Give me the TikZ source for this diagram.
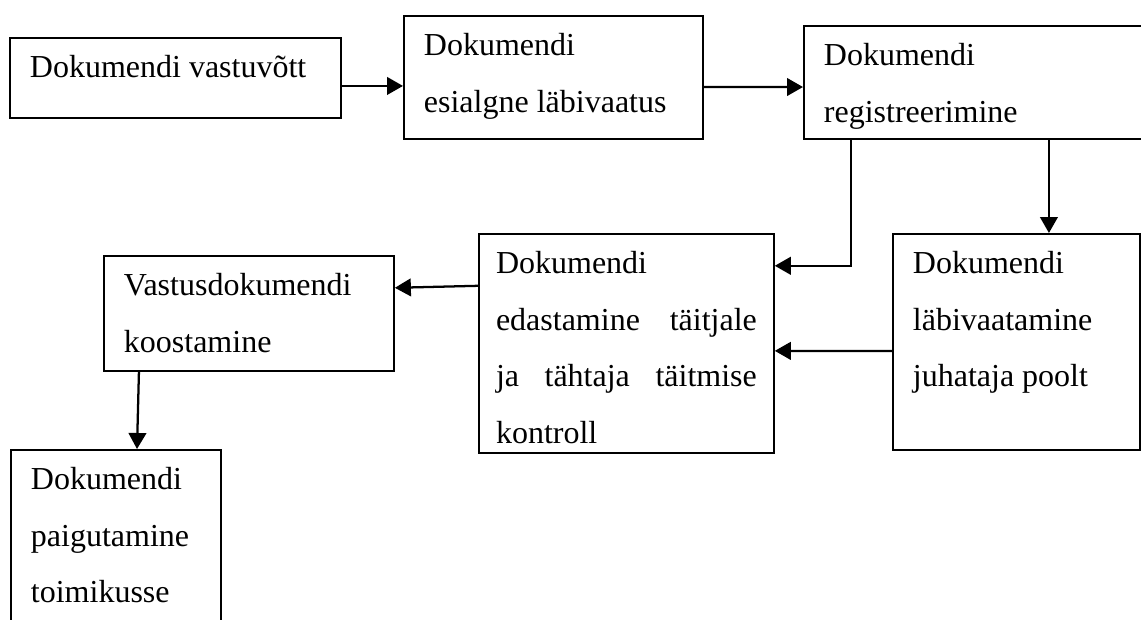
\documentclass[tikz,border=0pt]{standalone}
\usepackage{fontspec}
\setmainfont{Liberation Serif}
\usetikzlibrary{arrows.meta}

% text of a stage box: width, height, lines
\newcommand{\stagetext}[3]{\parbox[t][#2][t]{#1}{\strut #3}}

\begin{document}
\begin{tikzpicture}[x=0.375pt,y=-0.375pt,
    stage/.style={draw,line width=0.7pt,anchor=north west,inner xsep=7.5pt,inner ysep=0pt,
      font=\fontsize{12}{21.2}\selectfont},
    flow/.style={-{Triangle[length=6pt,width=6.6pt]},line width=0.85pt}]
  \useasboundingbox (0,0) rectangle (1141,619);

  \node[stage] (intake) at (9,37) {\stagetext{109.1pt}{30pt}{Dokumendi vastuvõtt}};
  \node[stage] (prelim) at (403,15) {\stagetext{97.1pt}{46.1pt}{Dokumendi\\esialgne läbivaatus}};
  \node[stage] (register) at (803,25) {\stagetext{135pt}{42.4pt}{Dokumendi\\registreerimine}};
  \node[stage,inner xsep=6.4pt] (forward) at (478,233) {\stagetext{97.8pt}{82.1pt}{Dokumendi\\
      \makebox[\linewidth][s]{edastamine täitjale}\\
      \makebox[\linewidth][s]{ja tähtaja täitmise}\\
      kontroll}};
  \node[stage] (review) at (892,233) {\stagetext{77.6pt}{81pt}{Dokumendi\\läbivaatamine\\juhataja poolt}};
  \node[stage] (reply) at (103,255) {\stagetext{93.75pt}{43.1pt}{Vastusdokumendi\\koostamine}};
  \node[stage] (filing) at (10,449) {\stagetext{63.75pt}{75pt}{Dokumendi\\paigutamine\\toimikusse}};

  \coordinate (tapreview) at ([xshift=12.2pt]review.north);

  \draw[flow] ([yshift=-3pt]intake.east) -- ([yshift=-3.2pt]prelim.west);
  \draw[flow] ([yshift=-3.6pt]prelim.east) -- ([yshift=-1.7pt]register.west);
  \draw[flow] ([xshift=18pt]register.south west) |- ([yshift=29.1pt]forward.east);
  \draw[flow] (tapreview |- register.south) -- (tapreview);
  \draw[flow] ([yshift=-3.4pt]review.west) -- ([yshift=-2.8pt]forward.east);
  \draw[flow] ([yshift=21.6pt]forward.west) -- ([yshift=9.6pt]reply.east);
  \draw[flow] ([xshift=-41.25pt]reply.south) -- ([xshift=7.9pt]filing.north);
\end{tikzpicture}
\end{document}
